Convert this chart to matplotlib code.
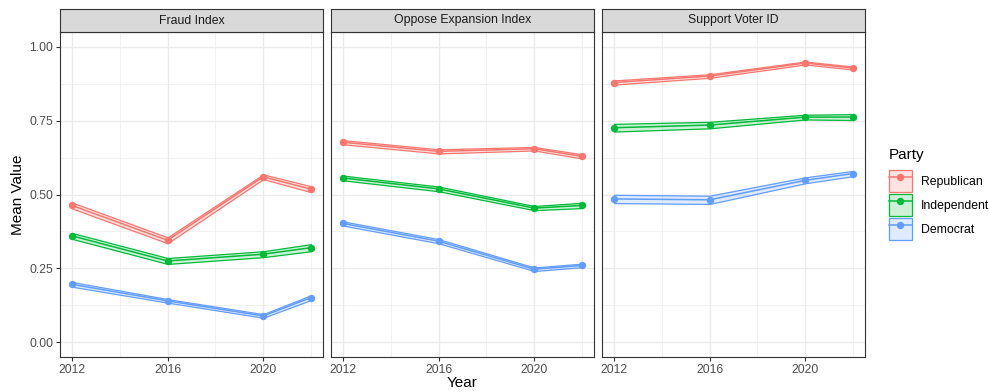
import numpy as np
import matplotlib.pyplot as plt
from matplotlib.patches import Patch
from matplotlib.lines import Line2D
from matplotlib.legend_handler import HandlerTuple
from matplotlib.colors import to_rgba

plt.rcParams["font.family"] = ["Liberation Sans", "DejaVu Sans"]

years = [2012, 2016, 2020, 2022]
facets = ["Fraud Index", "Oppose Expansion Index", "Support Voter ID"]
parties = ["Republican", "Independent", "Democrat"]
colors = {"Republican": "#F8766D", "Independent": "#00BA38", "Democrat": "#619CFF"}

# mean values per facet and party
means = {
    "Fraud Index": {
        "Republican": [0.463, 0.345, 0.560, 0.518],
        "Independent": [0.360, 0.275, 0.298, 0.320],
        "Democrat": [0.196, 0.140, 0.089, 0.151],
    },
    "Oppose Expansion Index": {
        "Republican": [0.677, 0.646, 0.655, 0.629],
        "Independent": [0.556, 0.519, 0.454, 0.463],
        "Democrat": [0.402, 0.342, 0.247, 0.260],
    },
    "Support Voter ID": {
        "Republican": [0.879, 0.901, 0.945, 0.928],
        "Independent": [0.726, 0.735, 0.762, 0.762],
        "Democrat": [0.485, 0.482, 0.548, 0.571],
    },
}

# half-width of the confidence band
halfwidth = {
    "Fraud Index": {
        "Republican": [0.010, 0.010, 0.008, 0.010],
        "Independent": [0.010, 0.010, 0.010, 0.012],
        "Democrat": [0.008, 0.006, 0.006, 0.008],
    },
    "Oppose Expansion Index": {
        "Republican": [0.007, 0.007, 0.006, 0.007],
        "Independent": [0.008, 0.008, 0.007, 0.009],
        "Democrat": [0.007, 0.007, 0.006, 0.006],
    },
    "Support Voter ID": {
        "Republican": [0.007, 0.006, 0.005, 0.005],
        "Independent": [0.013, 0.011, 0.008, 0.010],
        "Democrat": [0.014, 0.014, 0.010, 0.009],
    },
}

W, H = 989, 392
fig = plt.figure(figsize=(W / 100, H / 100), dpi=100)

panel_left = [60, 331, 602]
panel_w = 263
top, bottom = 32, 357
strip_top = 9

for i, facet in enumerate(facets):
    x0 = panel_left[i]
    ax = fig.add_axes([x0 / W, (H - bottom) / H, panel_w / W, (bottom - top) / H])
    ax.set_xlim(2011.5, 2022.5)
    ax.set_ylim(-0.05, 1.05)
    ax.set_xticks([2012, 2016, 2020])
    ax.set_xticks([2014, 2018, 2022], minor=True)
    ax.set_yticks([0, 0.25, 0.5, 0.75, 1.0])
    ax.set_yticks([0.125, 0.375, 0.625, 0.875], minor=True)
    ax.grid(which="major", color="#EBEBEB", lw=1.0)
    ax.grid(which="minor", color="#EBEBEB", lw=0.5)
    ax.set_axisbelow(True)
    for s in ax.spines.values():
        s.set_color("#333333")
        s.set_linewidth(0.8)
    ax.tick_params(which="major", length=3, width=0.8, color="#333333",
                   labelsize=8.8, labelcolor="#4D4D4D", pad=2)
    ax.tick_params(which="minor", length=0)
    if i == 0:
        ax.set_yticklabels(["0.00", "0.25", "0.50", "0.75", "1.00"])
    else:
        ax.tick_params(axis="y", which="major", length=0, labelleft=False)

    for party in parties:
        c = colors[party]
        m = np.array(means[facet][party])
        h = np.array(halfwidth[facet][party])
        ax.fill_between(years, m - h, m + h, facecolor=to_rgba(c, 0.2),
                        edgecolor=c, lw=0.9, zorder=2)
        ax.plot(years, m, color=c, lw=1.1, marker="o", ms=4.3, zorder=3)

    sax = fig.add_axes([x0 / W, (H - top) / H, panel_w / W, (top - strip_top) / H])
    sax.set_facecolor("#D9D9D9")
    sax.set_xticks([])
    sax.set_yticks([])
    for s in sax.spines.values():
        s.set_color("#333333")
        s.set_linewidth(0.8)
    sax.text(0.5, 0.5, facet, ha="center", va="center", fontsize=8.8,
             color="#1A1A1A", transform=sax.transAxes)

fig.text(462.5 / W, 1 - 383 / H, "Year", ha="center", va="center", fontsize=11)
fig.text(18 / W, 1 - 195 / H, "Mean Value", ha="center", va="center",
         rotation=90, fontsize=11)

# legend: title placed on its own, keys below it
fig.text(889 / W, 1 - 155 / H, "Party", ha="left", va="center", fontsize=11)
handles = []
for party in parties:
    c = colors[party]
    handles.append((Patch(facecolor=to_rgba(c, 0.2), edgecolor=c, lw=0.9),
                    Line2D([], [], color=c, lw=1.1, marker="o", ms=4.3)))
leg = fig.legend(handles, parties, handler_map={tuple: HandlerTuple(ndivide=1)},
                 loc="upper left", bbox_to_anchor=(889 / W, 1 - 170 / H),
                 frameon=False, fontsize=8.8,
                 handlelength=1.85, handleheight=2.4, labelspacing=0.15,
                 handletextpad=0.75, borderaxespad=0, borderpad=0)

fig.savefig("out.png", dpi=100)
